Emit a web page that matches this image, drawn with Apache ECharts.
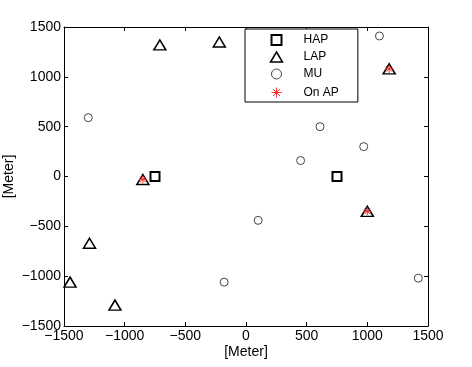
<!DOCTYPE html>
<html>
<head>
<meta charset="utf-8">
<script src="https://cdn.jsdelivr.net/npm/echarts@6/dist/echarts.min.js"></script>
<style>
  html, body { margin: 0; padding: 0; background: #fff; }
  #chart { width: 472px; height: 367px; }
</style>
</head>
<body>
<div id="chart"></div>
<script>
// 数据：各类节点坐标（米）
const hapX = [-750, 750]
const hapY = [0, 0]
const lapX = [-710, -220, -850, -1290, -1450, -1080, 1000, 1180]
const lapY = [1320, 1350, -30, -670, -1060, -1290, -350, 1080]
const muX = [-1300, 1100, 610, 970, 450, 100, -180, 1420]
const muY = [590, 1410, 500, 300, 160, -440, -1060, -1020]
const onApX = [-850, 1000, 1180]
const onApY = [-30, -350, 1080]
const axisTicks = [-1500, -1000, -500, 0, 500, 1000, 1500]

const pts = (xs, ys) => xs.map((x, i) => [x, ys[i]])
const minus = v => String(v).replace('-', '\u2212')
const font = 'Liberation Sans, Arial, Helvetica, sans-serif'

// 方块 / 星号（MATLAB 的 's' 和 '*'）
const squarePath = 'path://M0,0L10,0L10,10L0,10Z'
const starPath = 'path://M5,0L5,10M0,5L10,5M1.5,1.5L8.5,8.5M8.5,1.5L1.5,8.5'

const myChart = echarts.init(document.getElementById('chart'))

const baseAxis = {
  type: 'value',
  min: axisTicks[0],
  max: axisTicks[axisTicks.length - 1],
  interval: 500,
  axisLine: { show: true, onZero: false, lineStyle: { color: '#000', width: 1 } },
  axisTick: { show: true, inside: true, length: 4, lineStyle: { color: '#000' } },
  splitLine: { show: false }
}

const option = {
  animation: false,
  backgroundColor: '#fff',
  grid: { left: 64, right: 44, top: 27, bottom: 41, containLabel: false, outerBoundsMode: 'none' },
  xAxis: [
    {
      ...baseAxis,
      position: 'bottom',
      name: '[Meter]',
      nameLocation: 'middle',
      nameGap: 19,
      nameMoveOverlap: false,
      nameTextStyle: { color: '#000', fontSize: 14, fontFamily: font },
      axisLabel: { color: '#000', fontSize: 14, fontFamily: font, margin: 3, formatter: minus }
    },
    { ...baseAxis, position: 'top', axisLabel: { show: false } }
  ],
  yAxis: [
    {
      ...baseAxis,
      position: 'left',
      name: '[Meter]',
      nameLocation: 'middle',
      nameGap: 48,
      nameMoveOverlap: false,
      nameTextStyle: { color: '#000', fontSize: 14, fontFamily: font },
      axisLabel: { color: '#000', fontSize: 14, fontFamily: font, margin: 3, formatter: minus }
    },
    { ...baseAxis, position: 'right', axisLabel: { show: false } }
  ],
  legend: {
    orient: 'vertical',
    left: 245,
    top: 29,
    align: 'left',
    padding: [5, 19, 2, 24],
    itemWidth: 12,
    itemHeight: 10,
    itemGap: 5,
    backgroundColor: '#fff',
    borderColor: '#000',
    borderWidth: 1,
    borderRadius: 0,
    textStyle: { color: '#000', fontSize: 12, fontFamily: font, lineHeight: 10, padding: [0, 0, 0, 16] },
    data: [
      { name: 'HAP', itemStyle: { borderWidth: 2 } },
      { name: 'LAP', itemStyle: { borderWidth: 1.5 } },
      { name: 'MU', itemStyle: { borderWidth: 1 } },
      { name: 'On AP', itemStyle: { borderWidth: 1 } }
    ]
  },
  series: [
    {
      name: 'HAP',
      type: 'scatter',
      symbol: squarePath,
      symbolKeepAspect: true,
      symbolSize: 9,
      itemStyle: { color: '#fff', borderColor: '#000', borderWidth: 2, opacity: 1 },
      data: pts(hapX, hapY)
    },
    {
      name: 'LAP',
      type: 'scatter',
      symbol: 'triangle',
      symbolSize: [12, 10],
      itemStyle: { color: '#fff', borderColor: '#000', borderWidth: 1.5, opacity: 1 },
      data: pts(lapX, lapY)
    },
    {
      name: 'MU',
      type: 'scatter',
      symbol: 'circle',
      symbolSize: 8,
      itemStyle: { color: '#fff', borderColor: '#444', borderWidth: 1, opacity: 1 },
      data: pts(muX, muY)
    },
    {
      name: 'On AP',
      type: 'scatter',
      symbol: starPath,
      symbolKeepAspect: true,
      symbolSize: 8,
      itemStyle: { color: 'none', borderColor: '#ff3030', borderWidth: 1, opacity: 1 },
      data: pts(onApX, onApY)
    }
  ]
}

myChart.setOption(option)
window.addEventListener('resize', () => myChart.resize())
</script>
</body>
</html>
